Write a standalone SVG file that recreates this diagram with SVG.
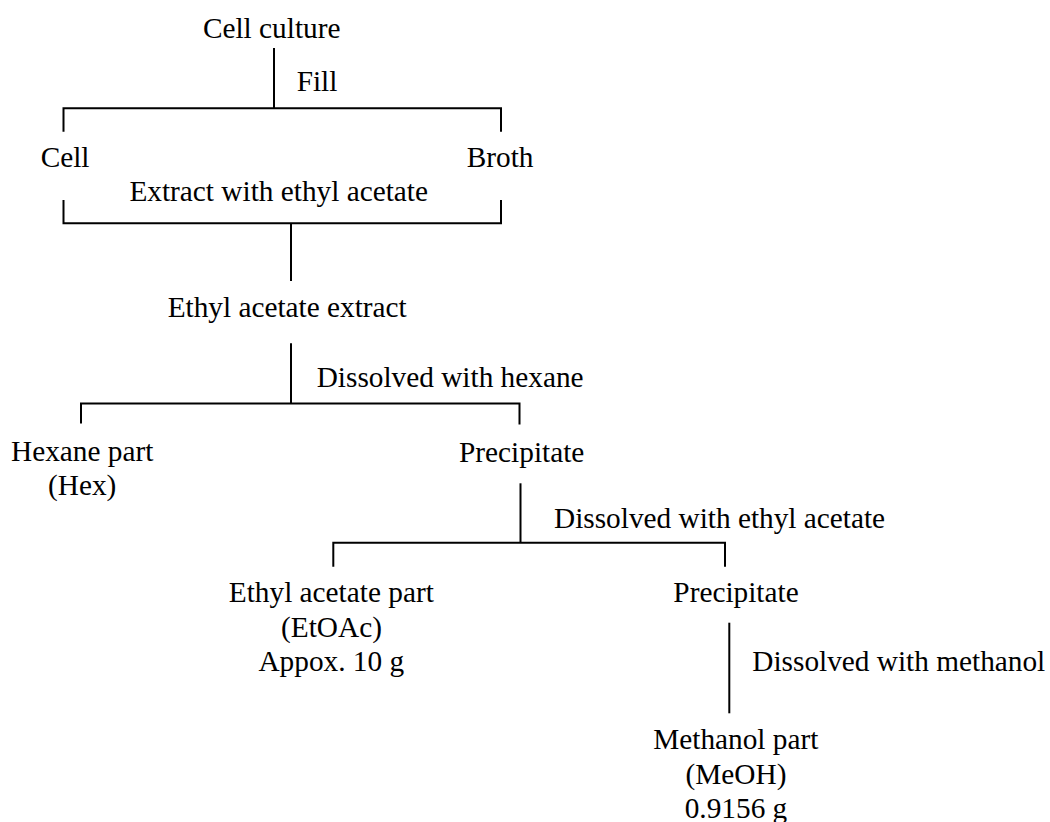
<svg xmlns="http://www.w3.org/2000/svg" width="1050" height="822" viewBox="0 0 1050 822">
<style>
text{font-family:"Liberation Serif","Times New Roman",serif;font-size:29.3px;fill:#000}
.c{text-anchor:middle}
.s{text-anchor:start}
.ln{fill:none;stroke:#000;stroke-width:2;stroke-linecap:butt;stroke-linejoin:miter}
</style>
<rect width="1050" height="822" fill="#fff"/>
<g id="connectors">
<path class="ln" d="M274,48 V108.3"/>
<path class="ln" d="M63.5,131.7 V108.3 H501 V131.7"/>
<path class="ln" d="M63.5,200 V223.3 H501 V200"/>
<path class="ln" d="M291,223.3 V281"/>
<path class="ln" d="M291,343.3 V403.5"/>
<path class="ln" d="M81,423.5 V403.5 H519.5 V424.5"/>
<path class="ln" d="M520.5,483.3 V542.7"/>
<path class="ln" d="M333.3,566.7 V542.7 H725 V566.7"/>
<path class="ln" d="M729.3,622.7 V713.3"/>
</g>
<g id="label-fill"><text class="s" x="296.7" y="91">Fill</text></g>
<g id="label-extract"><text class="c" x="278.7" y="200.7">Extract with ethyl acetate</text></g>
<g id="label-hexane"><text class="s" x="316.7" y="387">Dissolved with hexane</text></g>
<g id="label-etoac"><text class="s" x="554" y="528.3">Dissolved with ethyl acetate</text></g>
<g id="label-methanol"><text class="s" x="752.3" y="670.7">Dissolved with methanol</text></g>
<g id="node-culture"><text class="c" x="271.7" y="37.5">Cell culture</text></g>
<g id="node-cell"><text class="s" x="40.7" y="166.7">Cell</text></g>
<g id="node-broth"><text class="s" x="466.7" y="166.7">Broth</text></g>
<g id="node-extract"><text class="c" x="287.2" y="317.3">Ethyl acetate extract</text></g>
<g id="node-hex"><text class="c" x="82.2" y="460.5">Hexane part</text><text class="c" x="82.2" y="495">(Hex)</text></g>
<g id="node-precip1"><text class="c" x="521.7" y="461.5">Precipitate</text></g>
<g id="node-etoac"><text class="c" x="331.3" y="601.7">Ethyl acetate part</text><text class="c" x="331.5" y="636.5">(EtOAc)</text><text class="c" x="331.3" y="671.3">Appox. 10 g</text></g>
<g id="node-precip2"><text class="c" x="736" y="602">Precipitate</text></g>
<g id="node-meoh"><text class="c" x="735.8" y="749.3">Methanol part</text><text class="c" x="736" y="783.5">(MeOH)</text><text class="c" x="736" y="817.5">0.9156 g</text></g>
</svg>
